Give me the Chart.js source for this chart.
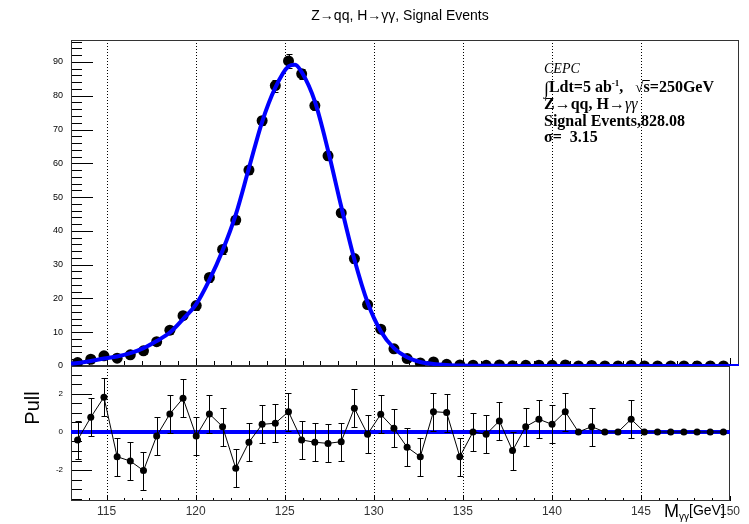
<!DOCTYPE html>
<html>
<head>
<meta charset="utf-8">
<script src="https://cdn.jsdelivr.net/npm/chart.js@4"></script>
<style>
  html, body { margin: 0; padding: 0; background: #fff; }
  #wrap { position: relative; width: 749px; height: 524px; }
  canvas { position: absolute; left: 0; top: 0; }
</style>
</head>
<body>
<div id="wrap">
  <canvas id="main" width="749" height="524"></canvas>
  <canvas id="pull" width="749" height="524"></canvas>
</div>
<script>
// bin centres of M_gg [GeV]
const massBins = [113.37, 114.11, 114.85, 115.59, 116.33, 117.07, 117.81, 118.55, 119.29, 120.03,
  120.77, 121.51, 122.25, 122.99, 123.73, 124.47, 125.21, 125.95, 126.69, 127.43,
  128.17, 128.91, 129.65, 130.39, 131.13, 131.87, 132.61, 133.35, 134.09, 134.83,
  135.57, 136.31, 137.05, 137.79, 138.53, 139.27, 140.01, 140.75, 141.49, 142.23,
  142.97, 143.71, 144.45, 145.19, 145.93, 146.67, 147.41, 148.15, 148.89, 149.63];

const signalEvents = [1.0, 2.0, 3.0, 2.3, 3.3, 4.5, 7.2, 10.6, 14.9, 17.9,
  26.2, 34.5, 43.2, 58.0, 72.6, 83.0, 90.3, 86.5, 77.1, 62.2,
  45.3, 31.8, 18.2, 10.9, 5.1, 2.2, 0.9, 1.2, 0.5, 0.3,
  0.25, 0.2, 0.3, 0.1, 0.2, 0.25, 0.2, 0.3, 0, 0.15,
  0, 0, 0.15, 0, 0, 0, 0, 0, 0, 0];

const signalErrors = [0.5, 0.7, 0.8, 0.7, 0.8, 0.9, 1.0, 1.1, 1.1, 1.2,
  1.2, 1.3, 1.3, 1.3, 1.4, 1.8, 2.0, 1.5, 1.4, 1.3,
  1.3, 1.2, 1.1, 1.0, 0.7, 0.5, 0.3, 0.3, 0.2, 0.15,
  0.12, 0.1, 0.12, 0.08, 0.1, 0.12, 0.1, 0.12, 0, 0.1,
  0, 0, 0.1, 0, 0, 0, 0, 0, 0, 0];

// fitted signal shape
const fitMass = [113.0, 113.37, 114.11, 114.85, 115.59, 116.33, 117.07, 117.81, 118.55, 119.29,
  120.03, 120.77, 121.51, 122.25, 122.99, 123.73, 124.47, 125.21, 125.58, 125.95,
  126.69, 127.43, 128.17, 128.91, 129.65, 130.39, 131.13, 131.87, 132.61, 133.35,
  134.09, 134.83, 135.57, 136.31, 137.05, 138.53, 140.01, 142.23, 145.19, 148.15, 150.5];
const fitCurve = [0.7, 0.9, 1.5, 2.2, 2.8, 3.8, 5.3, 7.4, 9.9, 13.9,
  18.3, 25.5, 34.2, 44.8, 58.6, 72.3, 82.4, 88.7, 89.2, 87.0,
  78.3, 63.8, 47.2, 31.5, 18.8, 10.3, 5.3, 2.6, 1.2, 0.6,
  0.3, 0.15, 0.08, 0.05, 0.04, 0.03, 0.02, 0.02, 0.01, 0.01, 0.01];

const pullValues = [-0.42, 0.77, 1.83, -1.3, -1.53, -2.03, -0.21, 0.95, 1.77, -0.21,
  0.95, 0.28, -1.91, -0.54, 0.4, 0.46, 1.07, -0.42, -0.54, -0.6,
  -0.51, 1.25, -0.12, 0.93, 0.19, -0.8, -1.3, 1.07, 1.02, -1.3,
  0, -0.12, 0.58, -0.98, 0.28, 0.67, 0.4, 1.07, 0, 0.28,
  0, 0, 0.67, 0, 0, 0, 0, 0, 0, 0];
const pullErrors = [1, 1, 1, 1, 1, 1, 1, 1, 1, 1,
  1, 1, 1, 1, 1, 1, 1, 1, 1, 1,
  1, 1, 1, 1, 1, 1, 1, 1, 1, 1,
  1, 1, 1, 1, 1, 1, 1, 1, 0, 1,
  0, 0, 1, 0, 0, 0, 0, 0, 0, 0];

const gridMass = [115, 120, 125, 130, 135, 140, 145];
const mainTicks = [0, 10, 20, 30, 40, 50, 60, 70, 80, 90];
const pullTicks = [-2, 0, 2];
const massTicks = [115, 120, 125, 130, 135, 140, 145, 150];

const sans = "'Liberation Sans', Arial, sans-serif";
const serif = "'Liberation Serif', 'Times New Roman', serif";

// ROOT-like frame: dotted grid, ticks pointing inwards
const rootAxes = {
  id: "rootAxes",
  beforeDatasetsDraw(chart, args, o) {
    const { ctx, chartArea: a, scales: { x, y } } = chart;
    ctx.save();
    ctx.strokeStyle = "#000";
    ctx.lineWidth = 1;
    ctx.setLineDash([1, 2]);
    gridMass.forEach((m) => {
      const px = Math.round(x.getPixelForValue(m)) + 0.5;
      ctx.beginPath();
      ctx.moveTo(px, a.top);
      ctx.lineTo(px, a.bottom);
      ctx.stroke();
    });
    ctx.setLineDash([]);
    ctx.beginPath();
    for (let m = 114; m <= 150; m++) {
      const px = Math.round(x.getPixelForValue(m)) + 0.5;
      const len = m % 5 === 0 ? o.xMajor : o.xMinor;
      ctx.moveTo(px, a.bottom);
      ctx.lineTo(px, a.bottom - len);
    }
    for (let k = o.yFrom; k <= o.yTo; k++) {
      const py = Math.round(y.getPixelForValue(k * o.yStep)) + 0.5;
      const len = k % o.yEvery === 0 ? o.yMajor : o.yMinor;
      ctx.moveTo(a.left, py);
      ctx.lineTo(a.left + len, py);
    }
    ctx.stroke();
    ctx.strokeStyle = "#333";
    ctx.strokeRect(a.left + 0.5, a.top + 0.5, a.width - 1, a.height - 1);
    ctx.restore();
  },
};

const errorBars = {
  id: "errorBars",
  beforeDatasetDraw(chart, args) {
    const ds = chart.data.datasets[args.index];
    if (!ds.errors) return;
    const { ctx, scales: { y } } = chart;
    ctx.save();
    ctx.strokeStyle = "#000";
    ctx.lineWidth = 1;
    args.meta.data.forEach((pt, i) => {
      const e = ds.errors[i];
      if (!e) return;
      const v = ds.data[i].y;
      const t = Math.round(y.getPixelForValue(v + e)) + 0.5;
      const b = Math.round(y.getPixelForValue(v - e)) + 0.5;
      const px = Math.round(pt.x) + 0.5;
      ctx.beginPath();
      ctx.moveTo(px, t);
      ctx.lineTo(px, b);
      ctx.moveTo(px - 3, t);
      ctx.lineTo(px + 3, t);
      ctx.moveTo(px - 3, b);
      ctx.lineTo(px + 3, b);
      ctx.stroke();
    });
    ctx.restore();
  },
};

// draws a run of text pieces with different fonts
function run(ctx, x, y, parts) {
  parts.forEach((p) => {
    ctx.font = p.font;
    ctx.fillText(p.t, x, y + (p.dy || 0));
    const w = ctx.measureText(p.t).width;
    if (p.over) {
      ctx.fillRect(x - 1, y - 12, w + 1, 1);
    }
    x += w;
  });
  return x;
}

const mainTexts = {
  id: "mainTexts",
  afterDraw(chart) {
    const ctx = chart.ctx;
    ctx.save();
    ctx.fillStyle = "#000";
    ctx.textBaseline = "alphabetic";
    ctx.font = "14px " + sans;
    ctx.textAlign = "center";
    ctx.fillText("Z\u2192qq, H\u2192\u03b3\u03b3, Signal Events", 400, 20);
    ctx.textAlign = "left";
    const b = "bold 16px " + serif;
    const x0 = 544;
    run(ctx, x0, 73, [{ t: "CEPC", font: "italic 14px " + serif }]);
    run(ctx, x0, 92, [
      { t: "\u222b", font: "18px " + serif, dy: 2 },
      { t: "Ldt=5 ab", font: b },
      { t: "-1", font: "bold 9px " + serif, dy: -6 },
      { t: ",   ", font: b },
      { t: "\u221a", font: "15px " + serif },
      { t: "s", font: b, over: true },
      { t: "=250GeV", font: b },
    ]);
    run(ctx, x0, 109, [
      { t: "Z\u2192qq, H\u2192", font: b },
      { t: "\u03b3\u03b3", font: "italic 16px " + serif },
    ]);
    run(ctx, x0, 126, [{ t: "Signal Events,828.08", font: b }]);
    run(ctx, x0, 142, [{ t: "\u03c3=  3.15", font: b }]);
    ctx.restore();
  },
};

const pullTexts = {
  id: "pullTexts",
  afterDraw(chart) {
    const ctx = chart.ctx;
    ctx.save();
    ctx.fillStyle = "#000";
    ctx.save();
    ctx.translate(39, 408);
    ctx.rotate(-Math.PI / 2);
    ctx.textAlign = "center";
    ctx.font = "20px " + sans;
    ctx.fillText("Pull", 0, 0);
    ctx.restore();
    ctx.textAlign = "left";
    run(ctx, 664, 517, [
      { t: "M", font: "18px " + sans },
      { t: "\u03b3\u03b3", font: "10px " + sans, dy: 3 },
      { t: "[GeV]", font: "14px " + sans, dy: -2 },
    ]);
    ctx.restore();
  },
};

const points = (xs, ys) => xs.map((m, i) => ({ x: m, y: ys[i] }));

new Chart(document.getElementById("main"), {
  type: "scatter",
  data: {
    datasets: [
      {
        data: points(fitMass, fitCurve),
        showLine: true,
        borderColor: "#0000ff",
        borderWidth: 4,
        pointRadius: 0,
        cubicInterpolationMode: "monotone",
        order: 0,
      },
      {
        data: points(massBins, signalEvents),
        errors: signalErrors,
        showLine: false,
        pointRadius: 5.5,
        pointBackgroundColor: "#000",
        pointBorderWidth: 0,
        order: 1,
      },
    ],
  },
  options: {
    responsive: false,
    animation: false,
    layout: { padding: { top: 40, right: 10, bottom: 158, left: 0 } },
    plugins: {
      legend: { display: false },
      tooltip: { enabled: false },
      rootAxes: { xMajor: 8, xMinor: 5, yFrom: 0, yTo: 48, yStep: 2, yEvery: 5, yMajor: 22, yMinor: 11 },
    },
    scales: {
      x: { type: "linear", min: 113, max: 150.5, display: false },
      y: {
        type: "linear",
        min: 0,
        max: 96.5,
        afterFit: (s) => { s.width = 71; },
        afterBuildTicks: (s) => { s.ticks = mainTicks.map((v) => ({ value: v })); },
        grid: { display: false, drawTicks: false },
        border: { display: false },
        ticks: { autoSkip: false, padding: 8, color: "#000", font: { family: sans, size: 9 } },
      },
    },
  },
  plugins: [rootAxes, errorBars, mainTexts],
});

new Chart(document.getElementById("pull"), {
  type: "scatter",
  data: {
    datasets: [
      {
        data: points(massBins, pullValues),
        errors: pullErrors,
        showLine: true,
        borderColor: "#000",
        borderWidth: 1,
        pointRadius: 3.5,
        pointBackgroundColor: "#000",
        pointBorderWidth: 0,
        order: 0,
      },
      {
        data: [{ x: 113, y: 0 }, { x: 150, y: 0 }],
        showLine: true,
        borderColor: "#0000ff",
        borderWidth: 4,
        pointRadius: 0,
        order: 1,
      },
    ],
  },
  options: {
    responsive: false,
    animation: false,
    layout: { padding: { top: 366, right: 19, bottom: 0, left: 0 } },
    plugins: {
      legend: { display: false },
      tooltip: { enabled: false },
      rootAxes: { xMajor: 5, xMinor: 3, yFrom: -7, yTo: 6, yStep: 0.5, yEvery: 4, yMajor: 21, yMinor: 11 },
    },
    scales: {
      x: {
        type: "linear",
        min: 113,
        max: 150,
        afterFit: (s) => { s.height = 23; },
        afterBuildTicks: (s) => { s.ticks = massTicks.map((v) => ({ value: v })); },
        grid: { display: false, drawTicks: false },
        border: { display: false },
        ticks: { autoSkip: false, maxRotation: 0, padding: 3, color: "#333", font: { family: sans, size: 12 } },
      },
      y: {
        type: "linear",
        min: -3.63,
        max: 3.47,
        afterFit: (s) => { s.width = 71; },
        afterBuildTicks: (s) => { s.ticks = pullTicks.map((v) => ({ value: v })); },
        grid: { display: false, drawTicks: false },
        border: { display: false },
        ticks: { autoSkip: false, padding: 8, color: "#000", font: { family: sans, size: 8 } },
      },
    },
  },
  plugins: [rootAxes, errorBars, pullTexts],
});
</script>
</body>
</html>
